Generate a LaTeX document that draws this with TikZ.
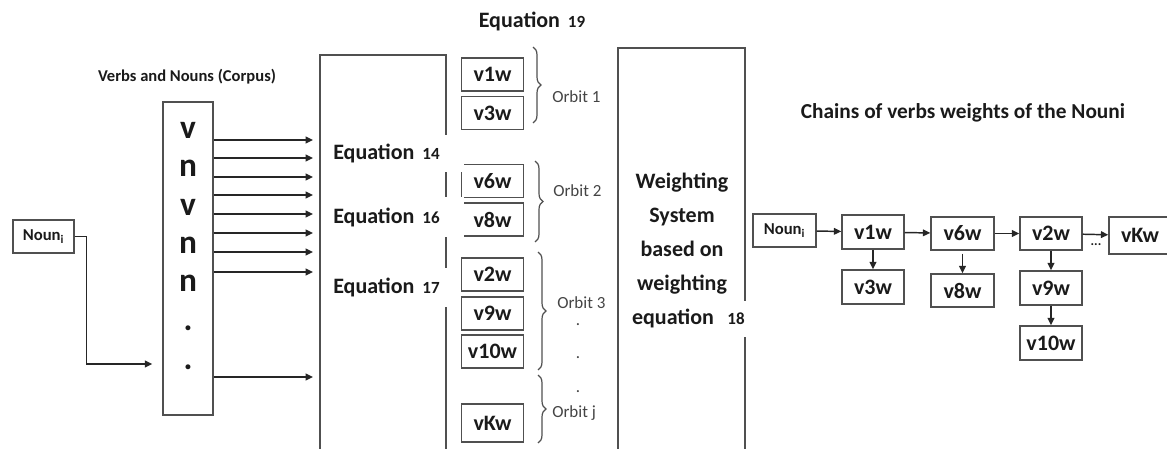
\documentclass[tikz,border=0pt]{standalone}
\usepackage{fontspec}
\setmainfont{Carlito}
\usetikzlibrary{arrows.meta,decorations.pathreplacing}
\definecolor{lin}{HTML}{505050}
\definecolor{txt}{HTML}{1A1A1A}
\definecolor{orbc}{HTML}{444444}
\begin{document}
\begin{tikzpicture}[x=0.75pt,y=-0.75pt]
\useasboundingbox (0,0) rectangle (1167,449);
\tikzset{
  lc/.style={draw=lin, line width=1.1pt},
  vbox/.style={lc, rectangle, inner sep=0pt, minimum width=46.5pt, minimum height=24.75pt,
    text=txt, font=\fontsize{16.5}{18}\selectfont\bfseries},
  nbox/.style={lc, rectangle, inner sep=0pt, minimum width=46.5pt, minimum height=24.75pt,
    text=txt, font=\fontsize{12.5}{14}\selectfont\bfseries},
  arr/.style={draw=black!85, line width=1.1pt, -{Triangle[length=5.5pt,width=5pt]}},
  eqlbl/.style={fill=white, anchor=west, inner xsep=2.25pt, inner ysep=0pt, text width=96pt,
    text=txt, font=\fontsize{16.5}{18}\selectfont\bfseries},
  orb/.style={anchor=west, inner sep=0pt, text=orbc, font=\fontsize{12.75}{14}\selectfont},
  brc/.style={draw=lin, line width=0.9pt, decorate, decoration={brace, amplitude=6pt}},
  corl/.style={inner sep=0pt, text=txt, font=\fontsize{25}{27}\selectfont\bfseries},
  odot/.style={inner sep=0pt, text=orbc, font=\fontsize{12.75}{14}\selectfont},
}
\newcommand{\numsz}{\fontsize{12.75}{14}\selectfont}

% ---------- left part ----------
\node[text=txt, font=\fontsize{12.4}{14}\selectfont\bfseries] (corpT) at (187,77) {Verbs and Nouns (Corpus)};
\node[lc, rectangle, minimum width=37.5pt, minimum height=234.75pt, inner sep=0pt] (corp) at (188,258.5) {};
\node[corl] (l1) at (188,130) {v};
\node[corl] (l2) at (188,168) {n};
\node[corl] (l3) at (188,207) {v};
\node[corl] (l4) at (188,245) {n};
\node[corl] (l5) at (188,283) {n};
\node[corl] (l6) at (188,328) {.};
\node[corl] (l7) at (188,367) {.};

\node[nbox, minimum width=45.75pt] (nounL) at (43.5,236.5) {Noun\textsubscript{i}};
\coordinate (p364) at (0,364);
\draw[arr, shorten >=7.5pt] (nounL.east) -- ++(12,0) |- (corp.west |- p364);

% equation box
\coordinate (eqTL) at (320,55);
\coordinate (eqTR) at (446,55);
\draw[lc] (320,452) -- (eqTL) -- (eqTR) -- (446,452);

\foreach \yy in {140,158,177,195,214,233,252,272,377}
  \draw[arr, shorten >=5.25pt] (corp.east |- 0,\yy) -- (eqTL |- 0,\yy);

% middle column of weights
\node[vbox] (m1) at (492.5,74.5) {v1w};
\node[vbox] (m3) at (492.5,113) {v3w};
\node[vbox] (m6) at (492.5,181) {v6w};
\node[vbox] (m8) at (492.5,219.5) {v8w};
\node[vbox] (m2) at (492.5,274.5) {v2w};
\node[vbox] (m9) at (492.5,313.5) {v9w};
\node[vbox] (m10) at (492.5,351.5) {v10w};
\node[vbox, minimum height=28.5pt] (mK) at (492.5,423) {vKw};

% equation labels (white backing hides lines behind them)
\node[eqlbl, minimum height=27.75pt] (e14) at (330,153.5) {Equation\hspace{6pt}{\numsz 14}};
\node[eqlbl, minimum height=30pt] (e16) at (330,217) {Equation\hspace{6pt}{\numsz 16}};
\node[eqlbl, minimum height=29.25pt, text width=87pt] (e17) at (330,287.5) {Equation\hspace{6pt}{\numsz 17}};
\node[text=txt, font=\fontsize{16.5}{18}\selectfont\bfseries] (e19) at (532,21) {Equation\hspace{6pt}{\numsz 19}};

% orbits
\draw[brc] (533,47) -- (533,123);
\draw[brc] (535,161) -- (535,242);
\draw[brc] (538,252) -- (538,370);
\draw[brc] (538,375) -- (538,443);
\node[orb] (o1) at (552,97) {Orbit 1};
\node[orb] (o2) at (553,191) {Orbit 2};
\node[orb] (o3) at (557,303) {Orbit 3};
\node[orb] (oj) at (552,413) {Orbit j};
\node[odot] (d1) at (578,325) {.};
\node[odot] (d2) at (578,358) {.};
\node[odot] (d3) at (578,392) {.};

% weighting system box
\coordinate (wTL) at (618,48);
\coordinate (wTR) at (745,48);
\draw[lc] (618,452) -- (wTL) -- (wTR) -- (745,452);
\node[align=center, text=txt, font=\fontsize{16.5}{25.5}\selectfont\bfseries] (wt) at (682,234)
  {Weighting\\System\\based on\\weighting};
\node[text=txt, font=\fontsize{16.5}{18}\selectfont\bfseries] (weq) at (673,318) {equation};
\node[fill=white, inner xsep=1.5pt, inner ysep=0pt, minimum height=27pt, text=txt,
  font=\numsz\bfseries] (w18) at (736,319) {18};

% ---------- right part: chains ----------
\node[text=txt, font=\fontsize{16}{18}\selectfont\bfseries] (ct) at (963,113) {Chains of verbs weights of the Nouni};
\node[nbox, minimum width=47.25pt] (nounR) at (784.5,230.5) {Noun\textsubscript{i}};
\node[vbox, minimum height=25.5pt] (r1) at (873,232) {v1w};
\node[vbox, minimum height=25.5pt] (r3) at (873,287) {v3w};
\node[vbox, minimum width=47.25pt] (r6) at (962.5,233.5) {v6w};
\node[vbox, minimum width=47.25pt] (r8) at (962.5,290.5) {v8w};
\node[vbox] (r2) at (1051,233.5) {v2w};
\node[vbox, minimum height=25.5pt] (r9) at (1051,288) {v9w};
\node[vbox, minimum height=25.5pt] (r10) at (1051,343) {v10w};
\node[vbox, minimum height=27.75pt] (rK) at (1140,235.5) {vKw};
\node[inner sep=0pt, text=txt, font=\fontsize{10}{12}\selectfont\bfseries] (dots) at (1096,245) {...};

\draw[arr] (nounR) -- (r1);
\draw[arr] (r1) -- (r6);
\draw[arr] (r6) -- (r2);
\draw[arr] (r2) -- (rK);
\draw[arr] (r1) -- (r3);
\draw[arr, shorten <=2.25pt] (r6) -- (r8);
\draw[arr] (r2) -- (r9);
\draw[arr] (r9) -- (r10);
\end{tikzpicture}
\end{document}
